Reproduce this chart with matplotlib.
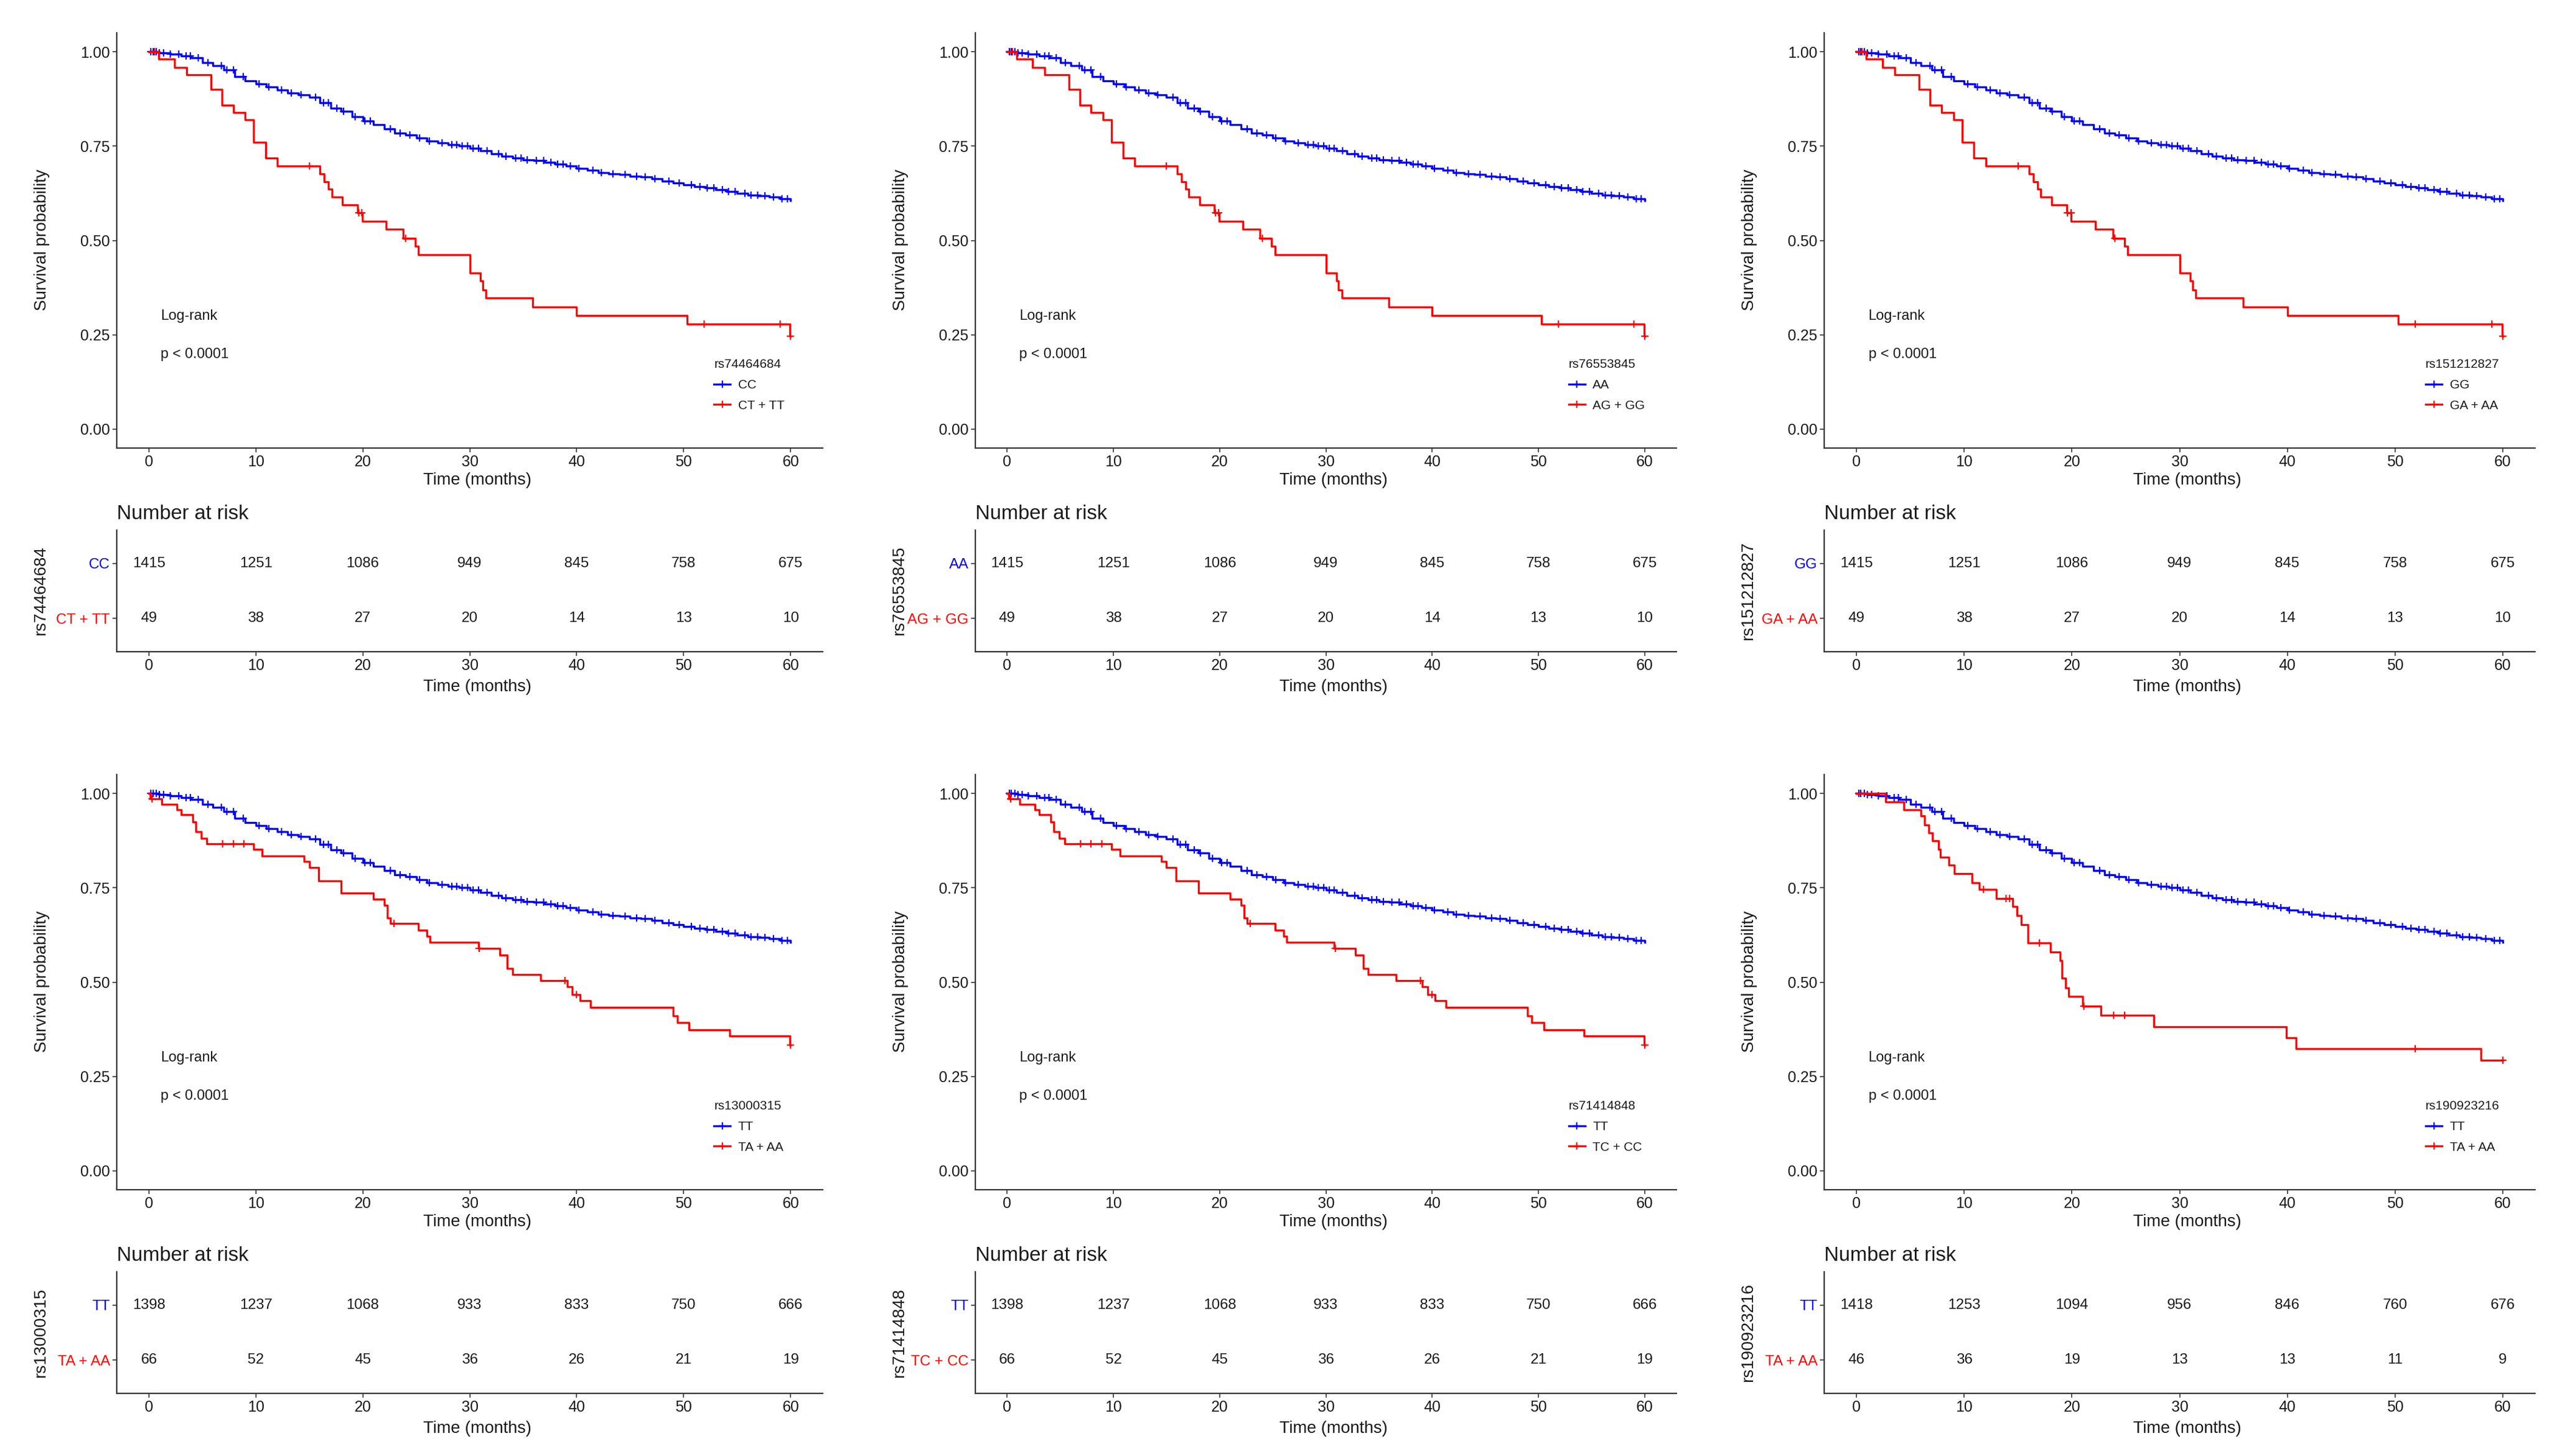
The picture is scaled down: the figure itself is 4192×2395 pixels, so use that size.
import numpy as np
import matplotlib
matplotlib.use('Agg')
import matplotlib.pyplot as plt
from matplotlib.lines import Line2D

plt.rcParams['font.family'] = ['Liberation Sans', 'DejaVu Sans']

# ---- data ----
time_ticks = [0, 10, 20, 30, 40, 50, 60]
surv_ticks = [0.00, 0.25, 0.50, 0.75, 1.00]

# reference genotype group (blue), read at whole months
blue_t = list(range(0, 61))
blue_s = [1.000, 0.997, 0.993, 0.989, 0.984, 0.971, 0.963, 0.952, 0.934, 0.922,
          0.914, 0.907, 0.898, 0.891, 0.885, 0.879, 0.865, 0.851, 0.843, 0.828,
          0.816, 0.807, 0.795, 0.785, 0.780, 0.772, 0.764, 0.758, 0.754, 0.750,
          0.744, 0.738, 0.730, 0.723, 0.718, 0.713, 0.711, 0.707, 0.702, 0.697,
          0.691, 0.686, 0.680, 0.676, 0.674, 0.670, 0.668, 0.664, 0.657, 0.652,
          0.648, 0.643, 0.639, 0.635, 0.630, 0.625, 0.620, 0.618, 0.615, 0.611,
          0.605]
blue_cens = [0.2, 0.4, 0.7, 1.0, 1.4, 2.0, 2.8, 3.5, 3.9, 4.6, 5.5, 6.8, 7.3, 7.9,
             8.8, 10.3, 11.2, 12.4, 13.3, 14.2, 15.6, 16.3, 16.8, 17.6, 18.2, 19.3,
             20.2, 20.7, 22.6, 23.5, 24.4, 25.3, 26.2, 27.4, 28.3, 28.8, 29.3, 29.8,
             30.3, 30.8, 31.6, 32.7, 33.4, 34.3, 34.8, 35.4, 36.2, 36.9, 37.6, 38.2,
             38.7, 39.4, 40.2, 41.5, 42.3, 43.4, 44.5, 45.6, 46.4, 47.3, 48.6, 49.6,
             50.7, 51.5, 52.2, 52.8, 53.6, 54.2, 54.8, 55.7, 56.3, 56.9, 57.6, 58.4,
             59.2, 59.7]

# minor-allele groups (red)
red_a_t = [0, 0.9, 2.4, 3.55, 5.8, 6.85, 7.9, 9.0, 9.8, 10.9, 12.0, 16.0, 16.4, 16.8,
           17.1, 18.1, 19.5, 19.95, 22.2, 23.8, 24.9, 25.2, 30.0, 31.0, 31.2, 31.5,
           35.9, 40.0, 50.3, 59.95, 60.0]
red_a_s = [1.0, 0.980, 0.959, 0.939, 0.900, 0.858, 0.839, 0.820, 0.760, 0.719, 0.697,
           0.676, 0.656, 0.636, 0.615, 0.594, 0.574, 0.551, 0.529, 0.506, 0.484, 0.462,
           0.414, 0.393, 0.369, 0.347, 0.324, 0.301, 0.279, 0.246, 0.246]
red_a_cens = [0.5, 15.0, 19.6, 19.9, 24.0, 51.9, 59.0, 60.0]

red_b_t = [0, 0.15, 1.2, 2.6, 3.0, 4.1, 4.4, 4.9, 5.4, 9.8, 10.6, 14.5, 15.0, 15.9,
           18.0, 21.0, 22.0, 22.3, 22.6, 25.2, 26.0, 26.3, 30.8, 32.8, 33.5, 34.0,
           36.6, 39.1, 39.6, 40.3, 41.3, 49.0, 49.4, 50.5, 54.3, 59.95, 60.0]
red_b_s = [1.0, 0.985, 0.971, 0.957, 0.943, 0.925, 0.898, 0.881, 0.867, 0.852, 0.834,
           0.820, 0.803, 0.768, 0.736, 0.720, 0.703, 0.670, 0.656, 0.638, 0.621, 0.605,
           0.589, 0.572, 0.537, 0.520, 0.504, 0.488, 0.467, 0.451, 0.433, 0.410, 0.393,
           0.373, 0.357, 0.334, 0.334]
red_b_cens = [0.3, 6.9, 7.9, 8.9, 22.9, 30.9, 38.9, 40.0, 60.0]

red_c_t = [0, 2.7, 4.4, 6.0, 6.3, 6.7, 7.05, 7.6, 7.8, 8.6, 9.1, 10.7, 11.4, 13.0,
           14.5, 14.9, 15.3, 15.9, 18.0, 18.9, 19.1, 19.4, 19.7, 21.0, 22.7, 27.6,
           39.9, 40.8, 58.0, 60.0]
red_c_s = [1.0, 0.978, 0.957, 0.940, 0.917, 0.895, 0.874, 0.852, 0.831, 0.810, 0.788,
           0.764, 0.745, 0.722, 0.700, 0.676, 0.652, 0.604, 0.580, 0.557, 0.510, 0.485,
           0.462, 0.437, 0.412, 0.382, 0.353, 0.323, 0.293, 0.293]
red_c_cens = [11.8, 13.9, 14.2, 17.0, 21.1, 23.9, 24.9, 51.9, 60.0]

snps = ['rs74464684', 'rs76553845', 'rs151212827', 'rs13000315', 'rs71414848', 'rs190923216']
group1 = ['CC', 'AA', 'GG', 'TT', 'TT', 'TT']
group2 = ['CT + TT', 'AG + GG', 'GA + AA', 'TA + AA', 'TC + CC', 'TA + AA']
red_curves = [(red_a_t, red_a_s, red_a_cens)] * 3 + [(red_b_t, red_b_s, red_b_cens)] * 2 \
             + [(red_c_t, red_c_s, red_c_cens)]

risk1 = [[1415, 1251, 1086, 949, 845, 758, 675]] * 3 + [[1398, 1237, 1068, 933, 833, 750, 666]] * 2 \
        + [[1418, 1253, 1094, 956, 846, 760, 676]]
risk2 = [[49, 38, 27, 20, 14, 13, 10]] * 3 + [[66, 52, 45, 36, 26, 21, 19]] * 2 \
        + [[46, 36, 19, 13, 13, 11, 9]]

# ---- layout (pixels of the 4192x2395 page) ----
W, H = 4192, 2395
col_left = [192, 1604, 3000]
col_right = [1353, 2757, 4169]
row_off = [0, 1220]
c_blue = '#0000FF'
c_red = '#FF0000'
spine_c = '#333333'
txt_c = '#1a1a1a'

fig = plt.figure(figsize=(W / 100, H / 100), dpi=100, facecolor='white')


def add_px_axes(l, t, r, b):
    return fig.add_axes([l / W, 1 - b / H, (r - l) / W, (b - t) / H])


def cens_y(t, s, c):
    idx = np.searchsorted(t, c, side='right') - 1
    return np.array(s)[idx]


def style(ax):
    for sp in ['top', 'right']:
        ax.spines[sp].set_visible(False)
    for sp in ['left', 'bottom']:
        ax.spines[sp].set_color(spine_c)
        ax.spines[sp].set_linewidth(1.6)
    ax.tick_params(length=5, width=1.2, color=spine_c, labelsize=18, pad=3,
                   labelcolor=txt_c)


for k in range(6):
    r, c = divmod(k, 3)
    l, rr = col_left[c], col_right[c]
    off = row_off[r]

    # survival curves
    ax = add_px_axes(l, 54 + off, rr, 737 + off)
    style(ax)
    ax.step(blue_t, blue_s, where='post', color=c_blue, lw=2.4)
    ax.plot(blue_cens, cens_y(blue_t, blue_s, blue_cens), ls='none', marker='+',
            color=c_blue, ms=9, mew=1.6)
    rt, rs, rc = red_curves[k]
    ax.step(rt, rs, where='post', color=c_red, lw=2.4)
    ax.plot(rc, cens_y(rt, rs, rc), ls='none', marker='+', color=c_red, ms=9, mew=1.6)
    ax.set_xlim(-3, 63)
    ax.set_ylim(-0.05, 1.05)
    ax.set_xticks(time_ticks)
    ax.set_yticks(surv_ticks)
    ax.set_yticklabels(['%.2f' % v for v in surv_ticks])
    ax.text(1.1, 0.30, 'Log-rank', fontsize=17, ha='left', va='center', color=txt_c)
    ax.text(1.1, 0.198, 'p < 0.0001', fontsize=17, ha='left', va='center', color=txt_c)
    handles = [Line2D([0], [0], color=c_blue, lw=2.4, marker='+', ms=9, mew=1.6),
               Line2D([0], [0], color=c_red, lw=2.4, marker='+', ms=9, mew=1.6)]
    leg = ax.legend(handles, [group1[k], group2[k]], title=snps[k], loc='upper left',
                    bbox_to_anchor=(0.830, 0.242), frameon=False, fontsize=15,
                    title_fontsize=15, alignment='left', handlelength=1.3,
                    handletextpad=0.6, labelspacing=0.7)
    for t in leg.get_texts():
        t.set_color(txt_c)
    leg.get_title().set_color(txt_c)
    fig.text((l - 123) / W, 1 - (395 + off) / H, 'Survival probability', rotation=90,
             fontsize=20, ha='center', va='center', color=txt_c)
    fig.text((l + rr) / 2 / W + 12 / W, 1 - (790 + off) / H, 'Time (months)',
             fontsize=20, ha='center', va='center', color=txt_c)

    # number at risk table
    axr = add_px_axes(l, 872 + off, rr, 1072 + off)
    style(axr)
    axr.set_xlim(-3, 63)
    axr.set_ylim(0.4, 2.6)
    axr.set_xticks(time_ticks)
    axr.set_yticks([2, 1])
    axr.set_yticklabels([group1[k], group2[k]], fontsize=17.5)
    for lab, col in zip(axr.get_yticklabels(), [c_blue, c_red]):
        lab.set_color(col)
    for t, n1, n2 in zip(time_ticks, risk1[k], risk2[k]):
        axr.text(t, 2, str(n1), fontsize=17.5, ha='center', va='center', color=txt_c)
        axr.text(t, 1, str(n2), fontsize=17.5, ha='center', va='center', color=txt_c)
    fig.text(l / W, 1 - (845 + off) / H, 'Number at risk', fontsize=24, ha='left',
             va='center', color=txt_c)
    fig.text((l - 125) / W, 1 - (972 + off) / H, snps[k], rotation=90, fontsize=20,
             ha='center', va='center', color=txt_c)
    fig.text((l + rr) / 2 / W + 12 / W, 1 - (1130 + off) / H, 'Time (months)',
             fontsize=20, ha='center', va='center', color=txt_c)

fig.savefig('out.png', dpi=100, facecolor='white')
